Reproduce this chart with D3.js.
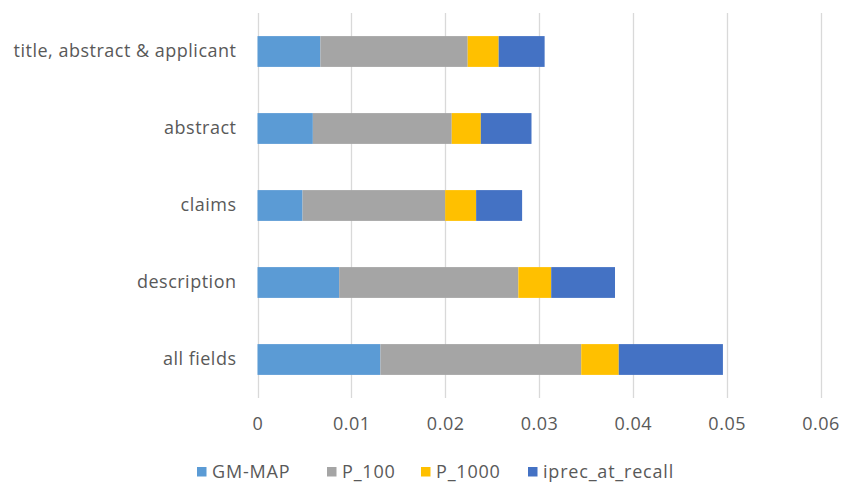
<!DOCTYPE html>
<html>
<head>
<meta charset="utf-8">
<script src="https://cdn.jsdelivr.net/npm/d3@7/dist/d3.min.js"></script>
<style>
  html, body { margin: 0; padding: 0; background: #fff; }
  svg { display: block; }
  text { font-family: "Open Sans", "Noto Sans", sans-serif; fill: #595959; letter-spacing: 0.5px; }
</style>
</head>
<body>
<svg id="chart" width="843" height="484"></svg>
<script>
// Retrieval fields, top to bottom
const categories = ["title, abstract & applicant", "abstract", "claims", "description", "all fields"];
// Stacked metrics, in stacking order
const seriesNames = ["GM-MAP", "P_100", "P_1000", "iprec_at_recall"];
const gmMap      = [0.0067, 0.0059, 0.0048, 0.0087, 0.0131];
const p100       = [0.0157, 0.0148, 0.0152, 0.0191, 0.0214];
const p1000      = [0.0033, 0.0031, 0.0033, 0.0035, 0.0040];
const iprecAtRec = [0.0049, 0.0054, 0.0049, 0.0068, 0.0111];
const xTicks = [0, 0.01, 0.02, 0.03, 0.04, 0.05, 0.06];
const tickLabels = ["0", "0.01", "0.02", "0.03", "0.04", "0.05", "0.06"];
const colors = ["#5B9BD5", "#A5A5A5", "#FFC000", "#4472C4"];

const rows = categories.map((c, i) => ({
  category: c,
  "GM-MAP": gmMap[i],
  "P_100": p100[i],
  "P_1000": p1000[i],
  "iprec_at_recall": iprecAtRec[i]
}));

const FONT = "'Open Sans', 'Noto Sans', sans-serif";
const FS = 18;

const svg = d3.select("#chart");
const plot = { left: 257.5, right: 820.5, top: 13, bottom: 398 };

const x = d3.scaleLinear().domain([0, 0.06]).range([plot.left, plot.right]);
const y = d3.scaleBand().domain(categories).range([plot.top, plot.bottom])
  .paddingInner(0.6).paddingOuter(0.3);
const color = d3.scaleOrdinal().domain(seriesNames).range(colors);

// Vertical gridlines
svg.append("g")
  .selectAll("line")
  .data(xTicks)
  .join("line")
  .attr("x1", d => Math.round(x(d)) + 0.5)
  .attr("x2", d => Math.round(x(d)) + 0.5)
  .attr("y1", plot.top)
  .attr("y2", plot.bottom)
  .attr("stroke", "#D9D9D9")
  .attr("stroke-width", 1.3);

// Stacked bars
const stacked = d3.stack().keys(seriesNames)(rows);
svg.append("g")
  .selectAll("g")
  .data(stacked)
  .join("g")
  .attr("fill", d => color(d.key))
  .selectAll("rect")
  .data(d => d)
  .join("rect")
  .attr("x", d => x(d[0]))
  .attr("width", d => x(d[1]) - x(d[0]))
  .attr("y", d => y(d.data.category))
  .attr("height", y.bandwidth());

// X axis labels
const xAxis = d3.axisBottom(x).tickValues(xTicks)
  .tickFormat((d, i) => tickLabels[i]).tickSize(0).tickPadding(0);
svg.append("g")
  .attr("transform", `translate(0,${plot.bottom + 19})`)
  .call(xAxis)
  .call(g => g.select(".domain").remove())
  .call(g => g.selectAll("text")
    .attr("font-size", FS)
    .attr("fill", "#595959")
    .attr("font-family", FONT));

// Category labels
const yAxis = d3.axisLeft(y).tickSize(0).tickPadding(0);
svg.append("g")
  .attr("transform", `translate(${plot.left - 21},0)`)
  .call(yAxis)
  .call(g => g.select(".domain").remove())
  .call(g => g.selectAll("text")
    .attr("font-size", FS)
    .attr("fill", "#595959")
    .attr("font-family", FONT));

// Legend
const legendX = [197, 327, 421, 528];
const legend = svg.append("g").selectAll("g")
  .data(seriesNames)
  .join("g")
  .attr("transform", (d, i) => `translate(${legendX[i]},471.5)`);
legend.append("rect")
  .attr("x", 0).attr("y", -4.5)
  .attr("width", 9.5).attr("height", 9.5)
  .attr("fill", d => color(d));
legend.append("text")
  .attr("x", 15).attr("y", 0)
  .attr("dy", "0.35em")
  .attr("font-size", FS)
  .attr("font-family", FONT)
  .style("letter-spacing", "0.8px")
  .text(d => d);
</script>
</body>
</html>
